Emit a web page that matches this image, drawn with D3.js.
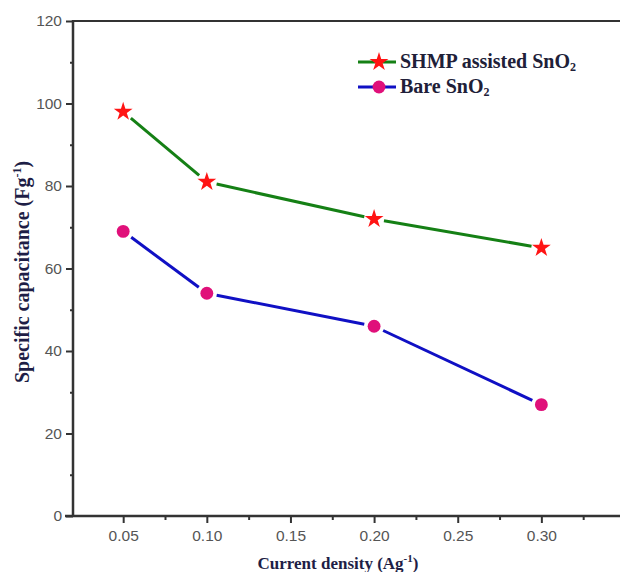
<!DOCTYPE html>
<html><head><meta charset="utf-8">
<script src="https://cdn.jsdelivr.net/npm/d3@7"></script>
<style>body{margin:0;background:#fff}svg{display:block}</style>
</head><body>
<svg id="c" width="620" height="572"></svg>
<script>
const currentDensity = [0.05, 0.10, 0.20, 0.30];
const shmpValues = [98, 81, 72, 65];
const bareValues = [69, 54, 46, 27];
const xTickValues = [0.05, 0.10, 0.15, 0.20, 0.25, 0.30];
const yTickValues = [0, 20, 40, 60, 80, 100, 120];
const seriesNames = ["SHMP assisted SnO", "Bare SnO"];

const svg = d3.select("#c");
const x = d3.scaleLinear().domain([0.02, 0.35]).range([73, 625]);
const y = d3.scaleLinear().domain([0, 120]).range([516, 21]);

const axisCol = "#333";
const labCol = "#555";
const titleCol = "#1e1e46";

// frame top line
svg.append("line").attr("x1", x(0.02)).attr("x2", 620).attr("y1", y(120)).attr("y2", y(120))
  .attr("stroke", axisCol).attr("stroke-width", 2);

// x axis
const xMinor = d3.range(0.075, 0.35, 0.05);
const gx = svg.append("g").attr("transform", `translate(0,${y(0)})`);
gx.call(d3.axisBottom(x).tickValues(xTickValues).tickFormat(d3.format(".2f")).tickSize(7).tickPadding(7));
gx.append("g").call(d3.axisBottom(x).tickValues(xMinor).tickFormat("").tickSize(4));
gx.selectAll(".domain").remove();
gx.selectAll("line").attr("stroke", axisCol).attr("stroke-width", 2);
gx.selectAll("text").attr("fill", labCol).attr("font-family", "Liberation Sans, Arial, sans-serif").attr("font-size", 15.5);
svg.append("line").attr("x1", x(0.02) - 8).attr("x2", 620).attr("y1", y(0)).attr("y2", y(0))
  .attr("stroke", axisCol).attr("stroke-width", 2.5);

// y axis
const yMinor = d3.range(10, 120, 20);
const gy = svg.append("g").attr("transform", `translate(${x(0.02)},0)`);
gy.call(d3.axisLeft(y).tickValues(yTickValues).tickSize(7).tickPadding(4));
gy.append("g").call(d3.axisLeft(y).tickValues(yMinor).tickFormat("").tickSize(3));
gy.selectAll(".domain").remove();
gy.selectAll("line").attr("stroke", axisCol).attr("stroke-width", 2);
gy.selectAll("text").attr("fill", labCol).attr("font-family", "Liberation Sans, Arial, sans-serif").attr("font-size", 15.5);
svg.append("line").attr("x1", x(0.02)).attr("x2", x(0.02)).attr("y1", y(120) - 1).attr("y2", y(0) + 1)
  .attr("stroke", axisCol).attr("stroke-width", 2.5);

// axis titles
const xt = svg.append("text").attr("x", 338).attr("y", 569).attr("text-anchor", "middle")
  .attr("font-family", "Liberation Serif, Times New Roman, serif").attr("font-weight", "bold")
  .attr("font-size", 17).attr("fill", titleCol);
xt.append("tspan").text("Current density (Ag");
xt.append("tspan").text("-1").attr("font-size", 11).attr("dy", -7);
xt.append("tspan").text(")").attr("dy", 7);

const yt = svg.append("text").attr("transform", "translate(29,272) rotate(-90)").attr("text-anchor", "middle")
  .attr("font-family", "Liberation Serif, Times New Roman, serif").attr("font-weight", "bold")
  .attr("font-size", 20).attr("fill", titleCol);
yt.append("tspan").text("Specific capacitance (Fg");
yt.append("tspan").text("-1").attr("font-size", 12).attr("dy", -8);
yt.append("tspan").text(")").attr("dy", 8);

const star = d3.symbol().type(d3.symbolStar).size(110);
const circ = d3.symbol().type(d3.symbolCircle).size(130);

function drawSeries(vals, lineCol, markCol, sym) {
  const pts = currentDensity.map((d, i) => [x(d), y(vals[i])]);
  const gap = 10;
  for (let i = 0; i < pts.length - 1; i++) {
    const [x1, y1] = pts[i], [x2, y2] = pts[i + 1];
    const L = Math.hypot(x2 - x1, y2 - y1), ux = (x2 - x1) / L, uy = (y2 - y1) / L;
    svg.append("line").attr("x1", x1 + ux * gap).attr("y1", y1 + uy * gap)
      .attr("x2", x2 - ux * gap).attr("y2", y2 - uy * gap)
      .attr("stroke", lineCol).attr("stroke-width", 3);
  }
  svg.selectAll(null).data(pts).enter().append("path").attr("d", sym)
    .attr("transform", d => `translate(${d[0]},${d[1]})`).attr("fill", markCol);
}
drawSeries(shmpValues, "#158015", "#ff1414", star);
drawSeries(bareValues, "#1010c4", "#e0107a", circ);

// legend
const legend = [
  {name: seriesNames[0], line: "#158015", mark: "#ff1414", sym: star, y: 62},
  {name: seriesNames[1], line: "#1010c4", mark: "#e0107a", sym: circ, y: 87}
];
legend.forEach(l => {
  svg.append("line").attr("x1", 358).attr("x2", 396).attr("y1", l.y).attr("y2", l.y)
    .attr("stroke", l.line).attr("stroke-width", 3);
  svg.append("path").attr("d", l.sym).attr("transform", `translate(379,${l.y})`).attr("fill", l.mark);
  const t = svg.append("text").attr("x", 400).attr("y", l.y + 6)
    .attr("font-family", "Liberation Serif, Times New Roman, serif").attr("font-weight", "bold")
    .attr("font-size", 20).attr("fill", "#202038");
  t.append("tspan").text(l.name);
  t.append("tspan").text("2").attr("font-size", 12).attr("dy", 3);
});
</script>
</body></html>
